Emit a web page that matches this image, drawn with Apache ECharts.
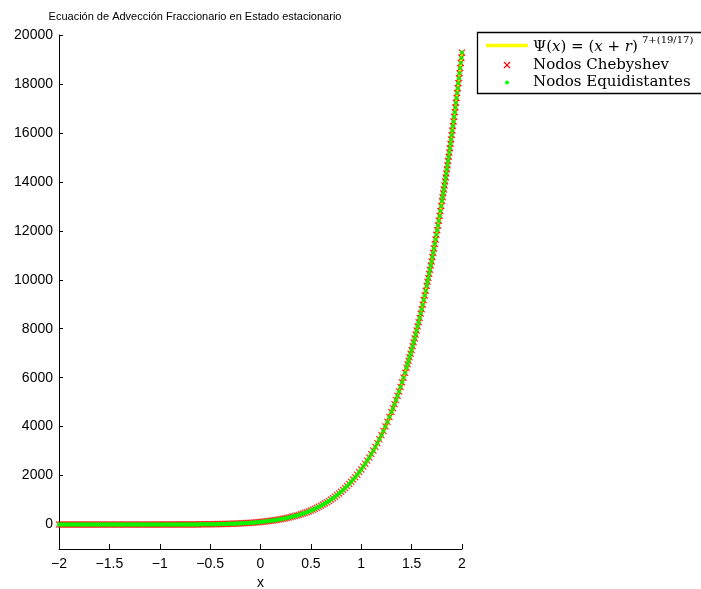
<!DOCTYPE html>
<html>
<head>
<meta charset="utf-8">
<script src="https://cdn.jsdelivr.net/npm/echarts@6/dist/echarts.min.js"></script>
<style>
  html, body { margin: 0; padding: 0; background: #fff; }
  #chart { width: 701px; height: 589px; }
</style>
</head>
<body>
<div id="chart"></div>
<script>
// Node abscissas along [-2, 2]
const nodeX = [
  -2, -1.98, -1.96, -1.94, -1.92, -1.9, -1.88, -1.86, -1.84, -1.82,
  -1.8, -1.78, -1.76, -1.74, -1.72, -1.7, -1.68, -1.66, -1.64, -1.62,
  -1.6, -1.58, -1.56, -1.54, -1.52, -1.5, -1.48, -1.46, -1.44, -1.42,
  -1.4, -1.38, -1.36, -1.34, -1.32, -1.3, -1.28, -1.26, -1.24, -1.22,
  -1.2, -1.18, -1.16, -1.14, -1.12, -1.1, -1.08, -1.06, -1.04, -1.02,
  -1, -0.98, -0.96, -0.94, -0.92, -0.9, -0.88, -0.86, -0.84, -0.82,
  -0.8, -0.78, -0.76, -0.74, -0.72, -0.7, -0.68, -0.66, -0.64, -0.62,
  -0.6, -0.58, -0.56, -0.54, -0.52, -0.5, -0.48, -0.46, -0.44, -0.42,
  -0.4, -0.38, -0.36, -0.34, -0.32, -0.3, -0.28, -0.26, -0.24, -0.22,
  -0.2, -0.18, -0.16, -0.14, -0.12, -0.1, -0.08, -0.06, -0.04, -0.02,
  0, 0.02, 0.04, 0.06, 0.08, 0.1, 0.12, 0.14, 0.16, 0.18,
  0.2, 0.22, 0.24, 0.26, 0.28, 0.3, 0.32, 0.34, 0.36, 0.38,
  0.4, 0.42, 0.44, 0.46, 0.48, 0.5, 0.52, 0.54, 0.56, 0.58,
  0.6, 0.62, 0.64, 0.66, 0.68, 0.7, 0.72, 0.74, 0.76, 0.78,
  0.8, 0.82, 0.84, 0.86, 0.88, 0.9, 0.92, 0.94, 0.96, 0.98,
  1, 1.02, 1.04, 1.06, 1.08, 1.1, 1.12, 1.14, 1.16, 1.18,
  1.2, 1.22, 1.24, 1.26, 1.28, 1.3,
  1.315, 1.33, 1.345, 1.36, 1.375, 1.39, 1.405, 1.42, 1.435, 1.45,
  1.46, 1.47, 1.48, 1.49, 1.5, 1.51, 1.52, 1.53, 1.54, 1.55,
  1.56, 1.57, 1.58, 1.59, 1.6, 1.61, 1.62, 1.63, 1.64, 1.65,
  1.658, 1.666, 1.674, 1.682, 1.69, 1.698, 1.706, 1.714, 1.722, 1.73,
  1.738, 1.746, 1.754, 1.762, 1.77, 1.778, 1.786, 1.794, 1.802,
  1.808, 1.814, 1.82, 1.826, 1.832, 1.838, 1.844, 1.85, 1.856, 1.862,
  1.868, 1.874, 1.88, 1.886, 1.892, 1.898, 1.904, 1.91, 1.916, 1.922,
  1.928, 1.934, 1.94, 1.946, 1.952, 1.958, 1.964, 1.97, 1.976, 1.982,
  1.988, 1.994, 2
];

// Ψ(x) at each node
const nodePsi = [
  0, 0, 0, 0, 0, 0, 0, 0, 0, 0,
  0, 0, 0, 0, 0, 0, 0, 0, 0, 0,
  0, 0, 0, 0, 0, 0, 0, 0, 0, 0,
  0, 0, 0, 0, 0, 0, 0, 0, 0, 0,
  0, 0, 0, 0, 0, 0, 0, 0, 0, 0,
  0, 1, 1, 1, 1, 1, 1, 1, 2, 2,
  2, 2, 3, 3, 3, 4, 4, 5, 5, 6,
  7, 7, 8, 9, 10, 11, 13, 14, 16, 17,
  19, 21, 23, 25, 28, 30, 33, 36, 39, 43,
  47, 51, 56, 60, 65, 71, 77, 83, 90, 97,
  105, 113, 122, 131, 141, 152, 164, 176, 189, 202,
  217, 232, 249, 266, 284, 304, 324, 346, 369, 393,
  419, 446, 475, 505, 537, 571, 606, 643, 683, 724,
  768, 813, 861, 912, 964, 1020, 1078, 1139, 1203, 1271,
  1341, 1415, 1492, 1573, 1657, 1745, 1838, 1935, 2036, 2141,
  2251, 2366, 2486, 2611, 2742, 2878, 3020, 3168, 3323, 3483,
  3651, 3825, 4006, 4195, 4391, 4596,
  4754, 4917, 5085, 5258, 5436, 5619, 5808, 6001, 6201, 6406,
  6546, 6688, 6834, 6981, 7132, 7286, 7442, 7601, 7763, 7929,
  8097, 8268, 8442, 8620, 8800, 8984, 9171, 9362, 9556, 9754,
  9914, 10077, 10242, 10409, 10579, 10751, 10926, 11102, 11282, 11464,
  11648, 11835, 12025, 12217, 12412, 12609, 12809, 13012, 13218,
  13374, 13532, 13691, 13852, 14015, 14179, 14345, 14512, 14681, 14852,
  15025, 15199, 15375, 15553, 15733, 15914, 16097, 16282, 16469, 16657,
  16848, 17040, 17235, 17431, 17629, 17829, 18031, 18235, 18441, 18649,
  18859, 19071, 19285
];

const xTicks = [-2, -1.5, -1, -0.5, 0, 0.5, 1, 1.5, 2];
const yTicks = [0, 2000, 4000, 6000, 8000, 10000, 12000, 14000, 16000, 18000, 20000];

const titleText = 'Ecuación de Advección Fraccionario en Estado estacionario';
const legendChebyshev = 'Nodos Chebyshev';
const legendEquidistant = 'Nodos Equidistantes';

const points = nodeX.map((x, i) => [x, nodePsi[i]]);

// Cross marker outline on a 10x10 box
const crossOutline = [[0,1.25],[1.25,0],[5,3.75],[8.75,0],[10,1.25],[6.25,5],[10,8.75],[8.75,10],[5,6.25],[1.25,10],[0,8.75],[3.75,5]];
const crossPath = 'path://M' + crossOutline.map(p => p[0] + ',' + p[1]).join('L') + 'Z';
const sansFont = 'Liberation Sans, Arial, Helvetica, sans-serif';
const serifFont = 'DejaVu Serif, serif';

const fmtNum = v => (v < 0 ? '\u2212' + Math.abs(v) : String(v));

// Cross glyph for the legend, centred on (cx, cy) with the given size
function crossPoints(cx, cy, size) {
  const k = size / 10;
  return crossOutline.map(p => [cx - size / 2 + p[0] * k, cy - size / 2 + p[1] * k]);
}

const chart = echarts.init(document.getElementById('chart'), null, { renderer: 'canvas' });

chart.setOption({
  animation: false,
  backgroundColor: '#ffffff',
  grid: { left: 59, right: 239, top: 35, bottom: 40, containLabel: false, outerBoundsMode: 'none' },
  xAxis: {
    type: 'value',
    min: -2, max: 2, interval: 0.5,
    name: 'x', nameLocation: 'middle', nameGap: 25,
    nameTextStyle: { fontFamily: sansFont, fontSize: 14, color: '#000' },
    axisLine: { show: true, onZero: false, lineStyle: { color: '#000', width: 1 } },
    axisTick: { show: true, inside: true, length: 5, lineStyle: { color: '#000' } },
    axisLabel: { color: '#000', fontFamily: sansFont, fontSize: 14, margin: 8, formatter: fmtNum },
    splitLine: { show: false }
  },
  yAxis: {
    type: 'value',
    min: -1000, max: 20000, interval: 1000,
    axisLine: { show: true, onZero: false, lineStyle: { color: '#000', width: 1 } },
    axisTick: { show: true, inside: true, length: 4, lineStyle: { color: '#000' }, customValues: yTicks },
    axisLabel: { color: '#000', fontFamily: sansFont, fontSize: 14, margin: 6, formatter: fmtNum, customValues: yTicks },
    splitLine: { show: false }
  },
  series: [
    {
      name: 'Psi',
      type: 'line',
      data: points,
      showSymbol: false,
      symbol: 'none',
      clip: false,
      lineStyle: { color: '#ffff00', width: 3.5 },
      z: 2
    },
    {
      name: legendChebyshev,
      type: 'scatter',
      data: points,
      symbol: crossPath,
      symbolSize: 7,
      clip: false,
      itemStyle: { color: '#ff0000' },
      z: 3
    },
    {
      name: legendEquidistant,
      type: 'scatter',
      data: points,
      symbol: 'circle',
      symbolSize: 4.5,
      clip: false,
      itemStyle: { color: '#00ff00' },
      z: 4
    }
  ],
  graphic: [
    {
      type: 'text', x: 195, y: 17, z: 20,
      style: { text: titleText, fontFamily: sansFont, fontSize: 11, fill: '#000', align: 'center', verticalAlign: 'middle' }
    },
    {
      type: 'rect', z: 20,
      shape: { x: 477.5, y: 32.5, width: 240, height: 61 },
      style: { fill: '#fff', stroke: '#000', lineWidth: 1.3 }
    },
    {
      type: 'line', z: 21,
      shape: { x1: 486, y1: 45.5, x2: 528, y2: 45.5 },
      style: { stroke: '#ffff00', lineWidth: 3.5 }
    },
    {
      type: 'text', x: 533, y: 47, z: 21,
      style: {
        text: '{n|\u03A8(}{i|x}{n|) = (}{i|x}{n| + }{i|r}{n|)}',
        verticalAlign: 'middle', fill: '#000',
        rich: {
          n: { fontFamily: serifFont, fontSize: 15, fill: '#000' },
          i: { fontFamily: serifFont, fontSize: 15, fontStyle: 'italic', fill: '#000' }
        }
      }
    },
    {
      type: 'text', x: 642, y: 40, z: 21,
      style: { text: '7+(19/17)', fontFamily: serifFont, fontSize: 10, fill: '#000', verticalAlign: 'middle' }
    },
    {
      type: 'polygon', z: 21,
      shape: { points: crossPoints(507, 65, 7) },
      style: { fill: '#ff0000' }
    },
    {
      type: 'text', x: 533, y: 65, z: 21,
      style: { text: legendChebyshev, fontFamily: serifFont, fontSize: 15, fill: '#000', verticalAlign: 'middle' }
    },
    {
      type: 'circle', z: 21,
      shape: { cx: 507, cy: 82.5, r: 2 },
      style: { fill: '#00ff00' }
    },
    {
      type: 'text', x: 533, y: 82.5, z: 21,
      style: { text: legendEquidistant, fontFamily: serifFont, fontSize: 15, fill: '#000', verticalAlign: 'middle' }
    }
  ]
});
</script>
</body>
</html>
